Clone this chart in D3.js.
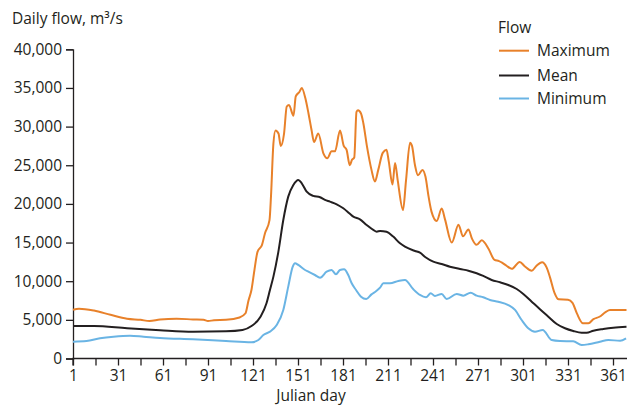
<!DOCTYPE html>
<html><head><meta charset="utf-8">
<script src="https://cdn.jsdelivr.net/npm/d3@7"></script>
<style>
html,body{margin:0;padding:0;background:#fff;}
svg{display:block;font-family:"Open Sans",sans-serif;}
</style></head>
<body><svg id="c" width="627" height="408"></svg>
<script>
const seriesNames = ["Maximum", "Mean", "Minimum"];
const seriesColors = ["#e8812a", "#231f20", "#6ab4e4"];
const yTicks = [0, 5000, 10000, 15000, 20000, 25000, 30000, 35000, 40000];
const xTickLabels = [1, 31, 61, 91, 121, 151, 181, 211, 241, 271, 301, 331, 361];

const maxDays = [1,5,15,26,37,46,52,59,70,81,88,91,95,103,112,116,118,120,122,124,127,129,132,133,134.6,136,138,139.5,141.7,143.5,145,148,149.5,152,153.5,156,158,160,161.7,164.5,168,170.5,173.4,175.7,179,181.5,183.4,185.5,187,188.5,190,191,193,194.6,197,200,202.3,204.5,207.5,210,211.5,214,215.7,217.5,221,223,225.7,227,229,231,234,236,238,240,243.5,246.8,249,253.5,258,261,264.6,267,270,273.5,278,282,285,287,290,293.5,298.8,302.3,306.8,310,313.7,316.8,319,322,324.8,331,334,337,341,344.6,348,352,356,359,370];
const maxValues = [6300,6450,6200,5650,5150,5000,4850,5050,5150,5050,5000,4850,4950,5000,5300,5850,7500,8900,11500,13800,14700,16200,17900,21000,27800,29500,29100,27500,29100,32600,32800,31400,33900,34500,35000,33600,31700,29600,28000,29100,26500,25900,26800,26800,29500,27500,27000,25000,25700,26000,31900,32100,31700,30400,27400,24400,22900,24400,26600,27000,25500,22500,25300,23000,19200,23000,27900,27500,25000,23700,24400,23500,21000,19000,17800,19400,18000,15000,17300,15800,16700,15500,14700,15300,14200,12750,12600,12400,12000,11600,12500,11900,11350,12000,12450,11750,10500,8500,7650,7600,7200,5800,4550,4550,5100,5400,6000,6280,6280];

const meanDays = [1,15,37,59,81,103,114,120,126,130,132.3,134.6,137.9,141.2,144.5,147.9,151.2,153.5,156.8,161.2,165.7,169,172.3,176.8,181.2,185.2,187.9,192.3,196.8,201.2,203.5,205.7,210,214.5,219,222.3,229,232.3,236,241.2,246.8,252.3,259,264.6,270.1,274.5,280.1,285.7,291.2,296.8,301.2,306.8,312.3,317.9,323.5,329,334.5,340.1,343.4,347.9,354.5,361.2,370];
const meanValues = [4200,4200,3900,3650,3470,3520,3690,4200,5410,7140,8860,10590,13800,17920,20940,22450,23100,22670,21580,21030,20860,20510,20290,19950,19430,18790,18350,18010,17270,16630,16410,16500,16400,15770,14900,14470,13910,13690,13100,12530,12230,11880,11580,11360,11030,10680,10160,9860,9510,8990,8350,7350,6370,5410,4460,3910,3560,3340,3340,3600,3820,3990,4120];

const minDays = [1,10,19,28,39,48,59,81,103,120,124.6,127.9,132.3,136.8,141.2,144.5,147.5,149,151.2,155.7,157.9,162.3,165.7,170.1,173.4,176.3,179,181.7,184.5,186.8,189.7,193,196.5,200,203,205.7,207.9,212.3,217.9,222.3,227.9,232.3,236.3,239.5,242.3,246.8,250.1,256.8,261.2,266.1,270.1,274.5,279,284.5,291.2,295.7,300.1,304.5,309,314.1,320.1,325.7,334.5,340.1,344.6,352.3,357.9,365.7,369.7];
const minValues = [2180,2260,2610,2820,2950,2820,2650,2480,2260,2100,2390,3040,3470,4330,6280,9300,11880,12320,12100,11450,11230,10800,10460,11230,11450,10890,11450,11540,10800,9730,8860,8000,7700,8300,8700,9160,9730,9730,10030,10160,8950,8220,7920,8440,8090,8350,7700,8350,8130,8510,8130,7920,7570,7350,6920,6280,4980,3910,3470,3690,2390,2260,2220,1750,1840,2170,2390,2300,2610];

const svg = d3.select("#c");
const x = d3.scaleLinear().domain([1, 371]).range([73, 628]);
const y = d3.scaleLinear().domain([0, 40000]).range([358.5, 49.3]);
const ink = "#231f20";
const fs = 15.5;

// y axis
const yAxis = d3.axisLeft(y).tickValues(yTicks).tickSize(7).tickPadding(4)
  .tickFormat(d3.format(","));
const gy = svg.append("g").attr("transform", `translate(${x(1)},0)`).call(yAxis);
gy.select(".domain").attr("stroke", ink).attr("stroke-width", 1.3);
gy.selectAll(".tick line").attr("stroke", ink).attr("stroke-width", 1.3);
gy.selectAll(".tick text").attr("fill", ink).style("font-size", fs + "px").style("font-family", "Open Sans");

// x axis
const xTickAll = d3.range(1, 372, 15);
const xAxis = d3.axisBottom(x).tickValues(xTickAll).tickSize(7).tickPadding(4)
  .tickFormat(d => xTickLabels.includes(d) ? d : "");
const gx = svg.append("g").attr("transform", `translate(0,${y(0)})`).call(xAxis);
gx.select(".domain").attr("stroke", ink).attr("stroke-width", 1.3).attr("d", `M${x(1)},7V0H627`);
gx.selectAll(".tick line").attr("stroke", ink).attr("stroke-width", 1.3);
gx.selectAll(".tick text").attr("fill", ink).style("font-size", fs + "px").style("font-family", "Open Sans");

// lines
const line = d3.line().x(d => x(d[0])).y(d => y(d[1])).curve(d3.curveMonotoneX);
const sets = [
  d3.zip(maxDays, maxValues),
  d3.zip(meanDays, meanValues),
  d3.zip(minDays, minValues)
];
[2, 1, 0].forEach(i => {
  svg.append("path").datum(sets[i]).attr("d", line)
    .attr("fill", "none").attr("stroke", seriesColors[i]).attr("stroke-width", 2)
    .attr("stroke-linejoin", "round");
});

// titles
svg.append("text").attr("x", 12).attr("y", 24).attr("fill", ink)
  .style("font-size", fs + "px").text("Daily flow, m³/s");
svg.append("text").attr("x", 311).attr("y", 401).attr("text-anchor", "middle").attr("fill", ink)
  .style("font-size", fs + "px").text("Julian day");

// legend
const lg = svg.append("g");
lg.append("text").attr("x", 498).attr("y", 33).attr("fill", ink).style("font-size", fs + "px").text("Flow");
const ly = [50.7, 75.5, 98.5];
seriesNames.forEach((n, i) => {
  lg.append("line").attr("x1", 499).attr("x2", 529).attr("y1", ly[i]).attr("y2", ly[i])
    .attr("stroke", seriesColors[i]).attr("stroke-width", 2);
  lg.append("text").attr("x", 537).attr("y", ly[i]).attr("dy", "0.35em").attr("fill", ink)
    .style("font-size", fs + "px").text(n);
});
</script></body></html>
